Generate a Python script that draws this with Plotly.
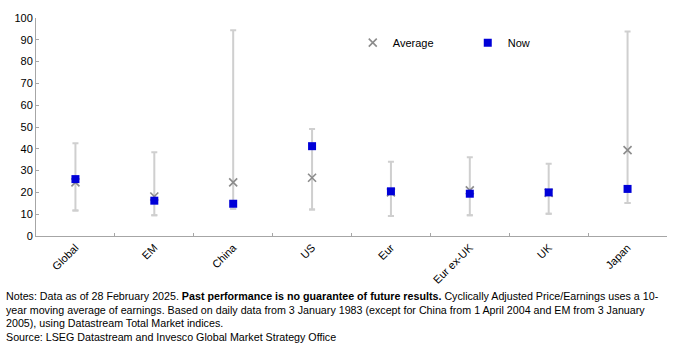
import plotly.graph_objects as go

# Cyclically adjusted P/E by market: historical range, long-run average and current level
markets = ["Global", "EM", "China", "US", "Eur", "Eur ex-UK", "UK", "Japan"]
cape_max = [42.6, 38.4, 94.4, 49.1, 34.1, 36.1, 33.1, 93.8]
cape_min = [11.7, 9.5, 12.5, 12.2, 9.2, 9.5, 10.2, 15.1]
cape_avg = [24.6, 18.1, 24.6, 26.7, 20.0, 20.9, 19.8, 39.4]
cape_now = [26.1, 16.2, 14.8, 41.2, 20.5, 19.4, 20.0, 21.6]

y_ticks = list(range(0, 101, 10))

notes = [
    "Notes: Data as of 28 February 2025. <b>Past performance is no guarantee of future results.</b> "
    "Cyclically Adjusted Price/Earnings uses a 10-",
    "year moving average of earnings. Based on daily data from 3 January 1983 (except for China from "
    "1 April 2004 and EM from 3 January",
    "2005), using Datastream Total Market indices.",
    "Source: LSEG Datastream and Invesco Global Market Strategy Office",
]

FONT = "Liberation Sans, Arial, sans-serif"
AXIS_GREY = "#a6a6a6"

fig = go.Figure()

# Min-max range drawn as capped error bars rising from the minimum
fig.add_trace(go.Scatter(
    x=markets,
    y=cape_min,
    mode="markers",
    marker=dict(size=1, opacity=0),
    error_y=dict(
        type="data",
        symmetric=False,
        array=[hi - lo for hi, lo in zip(cape_max, cape_min)],
        arrayminus=[0] * len(markets),
        color="#cfcfcf",
        thickness=2,
        width=3,
    ),
    showlegend=False,
    hoverinfo="skip",
))
# Cap at the minimum end
fig.add_trace(go.Scatter(
    x=markets,
    y=cape_min,
    mode="markers",
    marker=dict(size=1, opacity=0),
    error_y=dict(type="data", array=[0] * len(markets), color="#cfcfcf", thickness=2, width=3),
    showlegend=False,
    hoverinfo="skip",
))

fig.add_trace(go.Scatter(
    x=markets,
    y=cape_avg,
    mode="markers",
    name="Average",
    marker=dict(symbol="x-thin", size=8, line=dict(color="#8c8c8c", width=1.6)),
))
fig.add_trace(go.Scatter(
    x=markets,
    y=cape_now,
    mode="markers",
    name="Now",
    marker=dict(symbol="square", size=8, color="#0000d8", line=dict(width=0)),
))

for i, line in enumerate(notes):
    fig.add_annotation(
        text=line,
        xref="paper", yref="paper",
        x=-0.051, y=0,
        xanchor="left", yanchor="top",
        yshift=-52 - i * 13.6,
        showarrow=False,
        align="left",
        font=dict(family=FONT, size=10.7, color="#000000"),
    )

fig.update_layout(
    width=687,
    height=347,
    margin=dict(l=36, r=20, t=12, b=111),
    paper_bgcolor="white",
    plot_bgcolor="white",
    font=dict(family=FONT, size=11, color="#000000"),
    legend=dict(
        orientation="h",
        x=0.502, y=0.887,
        xanchor="left", yanchor="middle",
        entrywidth=70,
        bgcolor="rgba(0,0,0,0)",
        font=dict(family=FONT, size=11, color="#000000"),
    ),
    xaxis=dict(
        type="category",
        range=[-0.5, 7.5],
        tickangle=-45,
        showline=True,
        linecolor=AXIS_GREY,
        linewidth=1,
        ticks="inside",
        tickson="boundaries",
        ticklen=3,
        tickcolor=AXIS_GREY,
        showgrid=False,
        zeroline=False,
        tickfont=dict(family=FONT, size=11),
    ),
    yaxis=dict(
        range=[0, 100],
        tickvals=y_ticks,
        showline=True,
        linecolor=AXIS_GREY,
        linewidth=1,
        ticks="inside",
        ticklen=3,
        tickcolor=AXIS_GREY,
        showgrid=False,
        zeroline=False,
        tickfont=dict(family=FONT, size=11),
    ),
)

fig.write_html("out.html")
